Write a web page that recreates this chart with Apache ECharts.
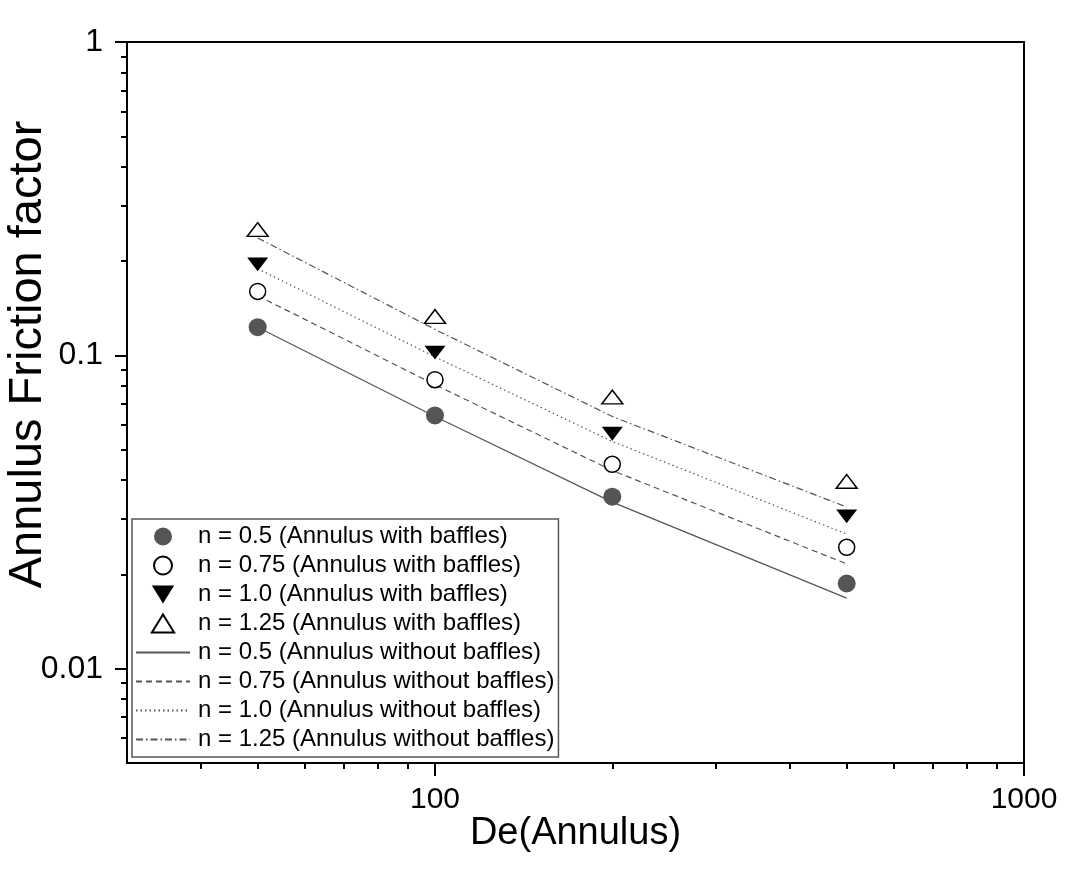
<!DOCTYPE html>
<html>
<head>
<meta charset="utf-8">
<script src="https://cdn.jsdelivr.net/npm/echarts@6/dist/echarts.min.js"></script>
<style>
  html, body { margin: 0; padding: 0; background: #fff; }
  #chart { width: 1083px; height: 869px; }
</style>
</head>
<body>
<div id="chart"></div>
<script>
// Dean number of the annulus
const deValues = [50, 100, 200, 500];

// Friction factor, annulus with baffles (markers)
const withN050 = [0.123, 0.0643, 0.0354, 0.0187];
const withN075 = [0.160, 0.0836, 0.0449, 0.0244];
const withN100 = [0.195, 0.102, 0.0562, 0.0306];
const withN125 = [0.252, 0.133, 0.0736, 0.0396];

// Friction factor, annulus without baffles (lines)
const withoutN050 = [0.123, 0.0638, 0.0340, 0.0168];
const withoutN075 = [0.155, 0.0806, 0.0429, 0.0216];
const withoutN100 = [0.189, 0.0989, 0.0531, 0.0269];
const withoutN125 = [0.237, 0.121, 0.0638, 0.0328];

// Tick values
const xMajorTicks = [100, 1000];
const xMinorTicks = [40, 50, 60, 70, 80, 90, 200, 300, 400, 500, 600, 700, 800, 900];
const yMajorTicks = [0.01, 0.1, 1];
const yMinorTicks = [0.006, 0.007, 0.008, 0.009, 0.02, 0.03, 0.04, 0.05, 0.06, 0.07, 0.08, 0.09,
                     0.2, 0.3, 0.4, 0.5, 0.6, 0.7, 0.8, 0.9];

const names = {
  w050: 'n = 0.5 (Annulus with baffles)',
  w075: 'n = 0.75 (Annulus with baffles)',
  w100: 'n = 1.0 (Annulus with baffles)',
  w125: 'n = 1.25 (Annulus with baffles)',
  o050: 'n = 0.5 (Annulus without baffles)',
  o075: 'n = 0.75 (Annulus without baffles)',
  o100: 'n = 1.0 (Annulus without baffles)',
  o125: 'n = 1.25 (Annulus without baffles)'
};

const pairs = ys => deValues.map((x, i) => [x, ys[i]]);
const FONT = "'Liberation Sans', Arial, sans-serif";
const LINE_COLOR = '#555';

// Triangle outlines as paths so the legend keeps their proportions
const TRI_UP = 'path://M10.5,0 L21,17 L0,17 Z';
const TRI_DOWN = 'path://M0,0 L21,0 L10.5,17 Z';

function markerSeries(name, ys, symbol, size, fill, stroke) {
  return {
    name, type: 'scatter', data: pairs(ys), z: 5,
    symbol, symbolSize: size, symbolKeepAspect: true,
    itemStyle: { color: fill, borderColor: stroke || fill, borderWidth: stroke ? 1.5 : 0, opacity: 1 }
  };
}
function lineSeries(name, ys, dash) {
  return {
    name, type: 'line', data: pairs(ys), z: 3,
    symbol: 'none', showSymbol: false, smooth: false,
    lineStyle: { color: LINE_COLOR, width: 1.2, type: dash },
    // keeps the legend sample a bare line
    itemStyle: { color: 'rgba(0,0,0,0)', borderColor: 'rgba(0,0,0,0)', borderWidth: 0 }
  };
}

const baseLog = { type: 'log', logBase: 10, gridIndex: 0 };

const option = {
  animation: false,
  backgroundColor: '#fff',
  textStyle: { fontFamily: FONT },
  grid: {
    left: 127, right: 59, top: 42, bottom: 106,
    outerBoundsMode: 'none', containLabel: false,
    show: true, borderColor: '#000', borderWidth: 2, backgroundColor: 'transparent'
  },
  xAxis: [
    Object.assign({}, baseLog, {
      min: 30, max: 1000, position: 'bottom',
      name: 'De(Annulus)', nameLocation: 'middle', nameGap: 52, nameMoveOverlap: false,
      nameTextStyle: { fontSize: 38, color: '#000', fontFamily: FONT },
      axisLine: { show: true, lineStyle: { color: '#000', width: 2 } },
      axisTick: { show: true, length: 13, customValues: xMajorTicks, lineStyle: { color: '#000', width: 2 } },
      axisLabel: { show: true, customValues: xMajorTicks, margin: 22, fontSize: 30, color: '#000',
                   fontFamily: FONT, formatter: v => String(v) },
      splitLine: { show: false }
    }),
    Object.assign({}, baseLog, {
      min: 30, max: 1000, position: 'bottom',
      axisLine: { show: false },
      axisTick: { show: true, length: 6, customValues: xMinorTicks, lineStyle: { color: '#000', width: 2 } },
      axisLabel: { show: false },
      splitLine: { show: false }
    })
  ],
  yAxis: [
    Object.assign({}, baseLog, {
      min: 0.005, max: 1, position: 'left',
      name: 'Annulus Friction factor', nameLocation: 'middle', nameGap: 75, nameMoveOverlap: false,
      nameTextStyle: { fontSize: 47, color: '#000', fontFamily: FONT, padding: [0, 0, 0, 96] },
      axisLine: { show: true, lineStyle: { color: '#000', width: 2 } },
      axisTick: { show: true, length: 12, customValues: yMajorTicks, lineStyle: { color: '#000', width: 2 } },
      axisLabel: { show: true, customValues: yMajorTicks, margin: 24, fontSize: 32, color: '#000',
                   fontFamily: FONT, formatter: v => String(v) },
      splitLine: { show: false }
    }),
    Object.assign({}, baseLog, {
      min: 0.005, max: 1, position: 'left',
      axisLine: { show: false },
      axisTick: { show: true, length: 6, customValues: yMinorTicks, lineStyle: { color: '#000', width: 2 } },
      axisLabel: { show: false },
      splitLine: { show: false }
    })
  ],
  legend: {
    orient: 'vertical', left: 132, top: 519,
    padding: [3, 4, 3, 3],
    itemWidth: 54, itemHeight: 18, itemGap: 0,
    symbolKeepAspect: true,
    backgroundColor: '#fff', borderColor: '#555', borderWidth: 1.5,
    textStyle: { fontSize: 24, color: '#000', fontFamily: FONT, lineHeight: 29, padding: [0, 0, 0, 3] },
    data: [names.w050, names.w075, names.w100, names.w125, names.o050, names.o075, names.o100, names.o125]
  },
  series: [
    lineSeries(names.o050, withoutN050, 'solid'),
    lineSeries(names.o075, withoutN075, [6, 4]),
    lineSeries(names.o100, withoutN100, [1.5, 3]),
    lineSeries(names.o125, withoutN125, [7, 3, 1.5, 3]),
    markerSeries(names.w050, withN050, 'circle', 18, '#555', null),
    markerSeries(names.w075, withN075, 'circle', 16, '#fff', '#000'),
    markerSeries(names.w100, withN100, TRI_DOWN, [21, 17], '#000', null),
    markerSeries(names.w125, withN125, TRI_UP, [21, 17], '#fff', '#000')
  ]
};

const chart = echarts.init(document.getElementById('chart'), null, { renderer: 'canvas' });
chart.setOption(option);
</script>
</body>
</html>
